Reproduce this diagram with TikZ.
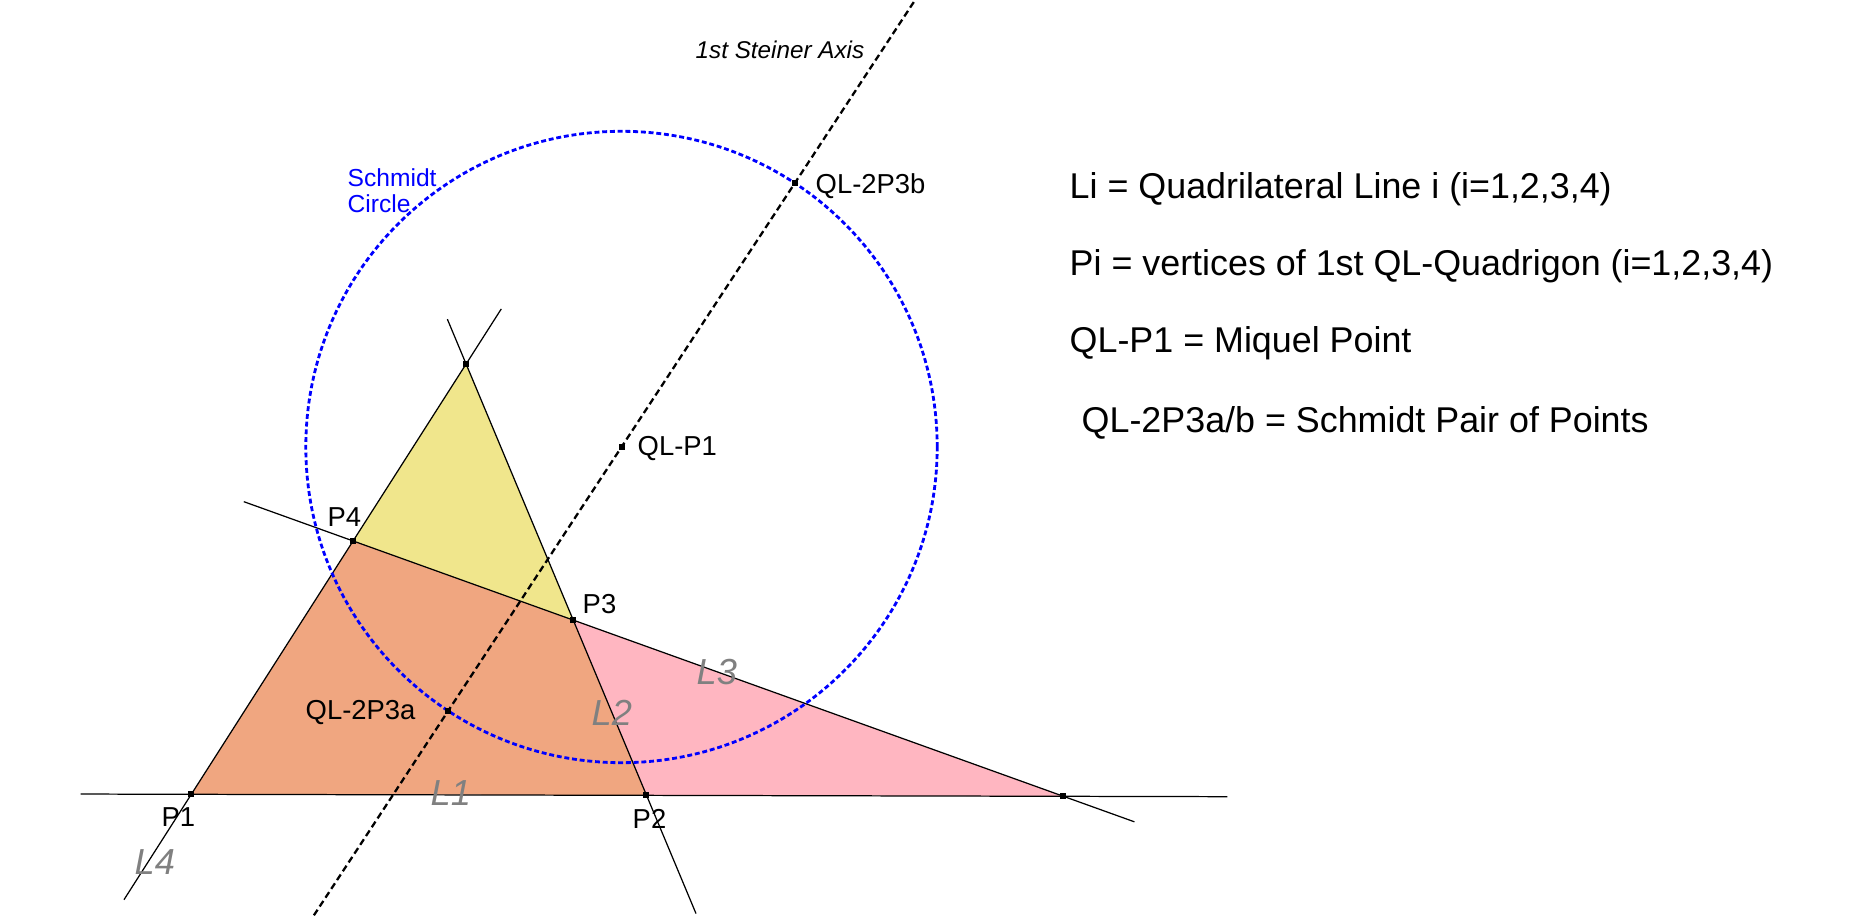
\documentclass[tikz,border=0pt]{standalone}
\usepackage{fontspec}
\setmainfont{Liberation Sans}
\usetikzlibrary{calc}
\definecolor{khakifill}{RGB}{240,230,140}
\definecolor{salmonfill}{RGB}{240,166,128}
\definecolor{pinkfill}{RGB}{255,182,193}
\definecolor{linegray}{RGB}{128,128,128}
\tikzset{
  qline/.style={line width=0.35pt},
  steiner/.style={line width=0.65pt, dash pattern=on 1.9pt off 1.1pt},
  schmidt/.style={blue, line width=0.8pt, dash pattern=on 1.4pt off 0.8pt},
  ptlabel/.style={anchor=west, inner sep=0pt, font=\fontsize{7.8}{9}\selectfont},
  linelabel/.style={anchor=west, inner sep=0pt, text=linegray, font=\fontsize{10.3}{12}\selectfont\itshape},
  legend/.style={anchor=west, inner sep=0pt, font=\fontsize{10.2}{12}\selectfont}
}

\begin{document}
\begin{tikzpicture}
\useasboundingbox (0,0) rectangle (18.57,9.15);
% vertices of the quadrilateral
\coordinate (P1) at (1.913,1.207);
\coordinate (P2) at (6.464,1.200);
\coordinate (P3) at (5.733,2.947);
\coordinate (P4) at (3.532,3.740);
\coordinate (T) at (4.661,5.510);
\coordinate (R) at (10.634,1.187);
% Miquel point and Schmidt pair
\coordinate (M) at (6.215,4.680);
\coordinate (Sa) at (4.481,2.040);
\coordinate (Sb) at ($(M)!-1!(Sa)$);
% free ends of the lines
\coordinate (L1a) at ($(P1)!-0.127!(R)$);
\coordinate (L1b) at ($(P1)!1.188!(R)$);
\coordinate (L2a) at ($(T)!-0.104!(P2)$);
\coordinate (L2b) at ($(T)!1.275!(P2)$);
\coordinate (L3a) at ($(P4)!-0.154!(R)$);
\coordinate (L3b) at ($(P4)!1.1!(R)$);
\coordinate (L4a) at ($(P1)!-0.245!(T)$);
\coordinate (L4b) at ($(P1)!1.128!(T)$);
\coordinate (Ax1) at ($(Sa)!-0.387!(Sb)$);
\coordinate (Ax2) at ($(Sa)!1.346!(Sb)$);

\fill[salmonfill] (P1) -- (P2) -- (P3) -- (P4) -- cycle;
\fill[khakifill] (P4) -- (P3) -- (T) -- cycle;
\fill[pinkfill] (P3) -- (R) -- (P2) -- cycle;

\draw[qline] (L1a) -- (L1b);
\draw[qline] (L2a) -- (L2b);
\draw[qline] (L3a) -- (L3b);
\draw[qline] (L4a) -- (L4b);

\draw[schmidt] let \p1=($(Sa)-(M)$) in (M) circle ({veclen(\x1,\y1)});
\draw[steiner] (Ax1) -- (Ax2);

\foreach \p in {P1,P2,P3,P4,T,R,M,Sa,Sb}
  \fill (\p) +(-0.03,-0.03) rectangle +(0.03,0.03);

% labels
\node[ptlabel] (lP1) at (1.61,0.98) {P1};
\node[ptlabel] (lP2) at (6.32,0.96) {P2};
\node[ptlabel] (lP3) at (5.82,3.11) {P3};
\node[ptlabel] (lP4) at (3.27,3.98) {P4};
\node[ptlabel] (lM) at (6.37,4.66) {QL-P1};
\node[ptlabel] (lSa) at (3.05,2.02) {QL-2P3a};
\node[ptlabel] (lSb) at (8.15,7.29) {QL-2P3b};
\node[ptlabel, align=left, text=blue, font=\fontsize{7}{7.5}\selectfont] (lcirc) at (3.47,7.24) {Schmidt\\Circle};
\node[ptlabel, font=\fontsize{6.9}{8}\selectfont\itshape] (laxis) at (6.95,8.65) {1st Steiner Axis};
\node[linelabel] (lL1) at (4.30,1.22) {L1};
\node[linelabel] (lL2) at (5.91,2.02) {L2};
\node[linelabel] (lL3) at (6.96,2.43) {L3};
\node[linelabel] (lL4) at (1.34,0.53) {L4};

% legend
\node[legend] (leg1) at (10.69,7.26) {Li = Quadrilateral Line i (i=1,2,3,4)};
\node[legend] (leg2) at (10.69,6.49) {Pi = vertices of 1st QL-Quadrigon (i=1,2,3,4)};
\node[legend] (leg3) at (10.69,5.72) {QL-P1 = Miquel Point};
\node[legend] (leg4) at (10.81,4.92) {QL-2P3a/b = Schmidt Pair of Points};
\end{tikzpicture}
\end{document}
